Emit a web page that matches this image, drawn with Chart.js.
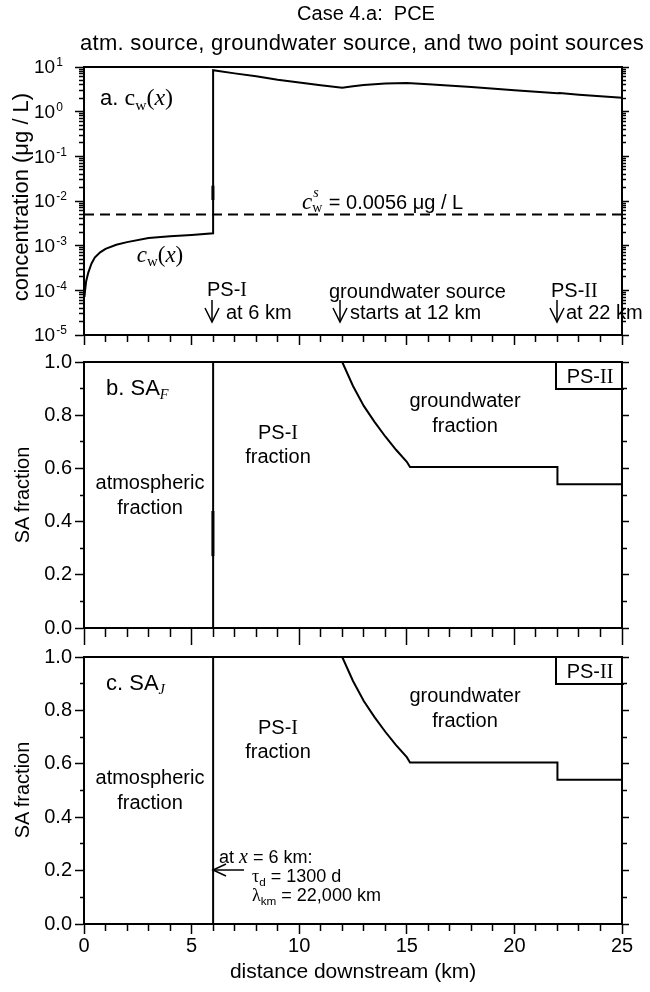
<!DOCTYPE html>
<html><head><meta charset="utf-8"><title>Case 4.a: PCE</title>
<script src="https://cdn.jsdelivr.net/npm/chart.js@4.4.1/dist/chart.umd.min.js"></script>
<style>
html,body{margin:0;padding:0;background:#fff;}
#wrap{position:relative;width:650px;height:992px;overflow:hidden;background:#fff;color:#000;font-family:"Liberation Sans",Arial,Helvetica,sans-serif;}
#wrap canvas{position:absolute;left:0;top:0;}
.t{position:absolute;white-space:nowrap;line-height:1;transform:translate(-50%,-50%);font-size:20px;}
.l{transform:translate(0,-50%);}
.s{font-family:"Liberation Serif","Times New Roman",serif;}
.i{font-style:italic;}
.rot{transform:translate(-50%,-50%) rotate(-90deg);font-size:21px;}
.box{position:absolute;border-left:2px solid #000;border-bottom:2px solid #000;}
.sub{position:relative;top:0.3em;font-size:0.65em;}
</style></head>
<body>
<div id="wrap">
<canvas id="cA" width="650" height="992" style="width:650px;height:992px"></canvas>
<canvas id="cB" width="650" height="992" style="width:650px;height:992px"></canvas>
<canvas id="cC" width="650" height="992" style="width:650px;height:992px"></canvas>

<svg width="650" height="992" style="position:absolute;left:0;top:0;pointer-events:none" fill="none" stroke="#000" stroke-width="1.5">
  <line x1="212" y1="300" x2="212" y2="322"/><polyline points="205,308 212,322 219,308"/>
  <line x1="340" y1="300" x2="340" y2="322"/><polyline points="333,308 340,322 347,308"/>
  <line x1="557" y1="300" x2="557" y2="322"/><polyline points="550,308 557,322 564,308"/>
  <line x1="213" y1="870" x2="244" y2="870"/><polyline points="226,864 213,870 226,876"/>
</svg>

<!-- titles -->
<div class="t" style="left:366px;top:13px;font-size:20px">Case 4.a:&nbsp; PCE</div>
<div class="t" style="left:362px;top:43px;font-size:22px;letter-spacing:0.3px">atm. source, groundwater source, and two point sources</div>
<div class="t rot" style="left:21px;top:197px;font-size:22px">concentration (μg / L)</div>
<div class="t rot" style="left:22px;top:495px;font-size:20px">SA fraction</div>
<div class="t rot" style="left:22px;top:790px;font-size:20px">SA fraction</div>
<div class="t" style="left:353px;top:970px;font-size:21px">distance downstream (km)</div>

<!-- panel a -->
<div class="t l" style="left:100px;top:97px;font-size:22px">a. <span class="s" style="font-size:24px">c<span class="sub">w</span>(<span class="i">x</span>)</span></div>
<div class="t l" style="left:302px;top:201px;font-size:20px"><span class="s i" style="font-size:23px">c</span><span class="s" style="display:inline-block;position:relative;width:11px;height:1em;font-size:14px"><span class="i" style="position:absolute;left:1px;top:-9px">s</span><span style="position:absolute;left:0;top:6px">w</span></span> = 0.0056 μg / L</div>
<div class="t" style="left:160px;top:254px;font-size:23px"><span class="s"><span class="i">c</span><span class="sub">w</span>(<span class="i">x</span>)</span></div>
<div class="t l" style="left:207px;top:289px">PS-<span class="s">I</span></div>
<div class="t l" style="left:226px;top:312px">at 6 km</div>
<div class="t l" style="left:329px;top:291px">groundwater source</div>
<div class="t l" style="left:350px;top:312px">starts at 12 km</div>
<div class="t l" style="left:551px;top:290px">PS-<span class="s">II</span></div>
<div class="t l" style="left:566px;top:312px">at 22 km</div>

<!-- panel b -->
<div class="t l" style="left:106px;top:388px;font-size:22px">b. SA<span class="s i sub">F</span></div>
<div class="t" style="left:150px;top:482px">atmospheric</div>
<div class="t" style="left:150px;top:507px">fraction</div>
<div class="t" style="left:278px;top:432px">PS-<span class="s">I</span></div>
<div class="t" style="left:278px;top:456px">fraction</div>
<div class="t" style="left:465px;top:400px">groundwater</div>
<div class="t" style="left:465px;top:425px">fraction</div>
<div class="box" style="left:555px;top:362px;width:67px;height:26px"></div>
<div class="t" style="left:590px;top:376px">PS-<span class="s">II</span></div>

<!-- panel c -->
<div class="t l" style="left:106px;top:683px;font-size:22px">c. SA<span class="s i sub">J</span></div>
<div class="t" style="left:150px;top:777px">atmospheric</div>
<div class="t" style="left:150px;top:802px">fraction</div>
<div class="t" style="left:278px;top:727px">PS-<span class="s">I</span></div>
<div class="t" style="left:278px;top:751px">fraction</div>
<div class="t" style="left:465px;top:695px">groundwater</div>
<div class="t" style="left:465px;top:720px">fraction</div>
<div class="box" style="left:555px;top:657px;width:67px;height:26px"></div>
<div class="t" style="left:590px;top:671px">PS-<span class="s">II</span></div>
<div class="t l" style="left:219px;top:856px;font-size:18px">at <span class="s i" style="font-size:20px">x</span> = 6 km:</div>
<div class="t l" style="left:252px;top:876px;font-size:18px"><span class="s">τ</span><span class="sub">d</span> = 1300 d</div>
<div class="t l" style="left:252px;top:895px;font-size:18px"><span class="s">λ</span><span class="sub">km</span> = 22,000 km</div>
</div>

<script>
// ---------- data ----------
const X_MIN = 0, X_MAX = 25;
const xMajorTicks = [0, 5, 10, 15, 20, 25];
const xTickLabels = ['0', '5', '10', '15', '20', '25'];
const xMinorTicks = [1, 2, 3, 4, 6, 7, 8, 9, 11, 12, 13, 14, 16, 17, 18, 19, 21, 22, 23, 24];

const logMajorTicks = [1e-5, 1e-4, 1e-3, 1e-2, 1e-1, 1, 10];
const logTickExponents = ['-5', '-4', '-3', '-2', '-1', '0', '1'];
const logMinorMultipliers = [2, 3, 4, 5, 6, 7, 8, 9];

const saMajorTicks = [0, 0.2, 0.4, 0.6, 0.8, 1.0];
const saTickLabels = ['0.0', '0.2', '0.4', '0.6', '0.8', '1.0'];
const saMinorTicks = [0.1, 0.3, 0.5, 0.7, 0.9];

// panel a: c_w(x) in ug/L
const cwX = [0.02, 0.05, 0.1, 0.2, 0.35, 0.5, 0.75, 1, 1.5, 2, 3, 4, 5, 6,
             6, 7, 8, 9, 10, 11, 12, 12.5, 13, 14, 15, 16, 18, 20, 22, 22.1, 23, 24, 25];
const cwY = [7.1e-5, 1.0e-4, 1.6e-4, 2.5e-4, 4.0e-4, 5.4e-4, 7.1e-4, 8.5e-4, 1.05e-3, 1.2e-3, 1.48e-3, 1.62e-3, 1.74e-3, 1.9e-3,
             8.5, 7.2, 6.2, 5.2, 4.5, 3.9, 3.45, 3.7, 3.95, 4.25, 4.37, 4.1, 3.55, 3.0, 2.57, 2.62, 2.4, 2.2, 2.04];
const cwSpikeX = [5.99, 5.99];
const cwSpikeY = [0.0105, 0.022];
const cwStandard = 0.005;           // dashed c_w^s level as drawn

// panels b and c: source-apportionment fractions
const psIX = [6, 6];
const psIY = [0, 1];
const gwX = [12, 12.5, 13, 13.5, 14, 14.5, 15, 15.15, 22, 22, 25];
const gwY = [1.0, 0.91, 0.835, 0.775, 0.72, 0.67, 0.625, 0.605, 0.605, 0.54, 0.54];
const saFSpikeX = [5.99, 5.99];
const saFSpikeY = [0.27, 0.44];

// ---------- helpers ----------
const FONT = '"Liberation Sans", Arial, sans-serif';
const BW = 2, TW = 1.5;
const pts = (xs, ys) => xs.map((x, i) => ({x: x, y: ys[i]}));

function setTicks(majors, minors) {
  return function (scale) {
    const t = majors.map(v => ({value: v, major: true}))
      .concat(minors.map(v => ({value: v, major: false})));
    t.sort((a, b) => a.value - b.value);
    scale.ticks = t;
  };
}
function tickGrid(side, majorLen, minorLen) {
  return {
    drawOnChartArea: false, drawTicks: true, tickLength: majorLen,
    tickWidth: TW, tickColor: '#000',
    tickBorderDash: function (ctx) {
      if (!ctx.tick || ctx.tick.major) return [];
      return side === 'left' ? [0, majorLen - minorLen, minorLen + 6, 1000] : [minorLen, 1000];
    }
  };
}
const border = {display: true, color: '#000', width: BW};

function xAxis(h, majorLen, minorLen, showLabels) {
  return {
    type: 'linear', position: 'bottom', min: X_MIN, max: X_MAX,
    afterBuildTicks: setTicks(xMajorTicks, xMinorTicks),
    afterFit: s => { s.height = h; },
    ticks: {display: showLabels, autoSkip: false, maxRotation: 0, padding: 0, color: '#000',
      font: {family: FONT, size: 20},
      callback: v => { const k = xMajorTicks.indexOf(v); return k >= 0 ? xTickLabels[k] : ''; }},
    grid: tickGrid('bottom', majorLen, minorLen),
    border: border
  };
}
function xTop() {
  return {
    type: 'linear', axis: 'x', position: 'top', min: X_MIN, max: X_MAX,
    afterFit: s => { s.height = 0; },
    ticks: {display: false}, grid: {display: true, drawOnChartArea: false, drawTicks: false},
    border: border
  };
}
function saAxis(side) {
  const left = side === 'left';
  return {
    type: 'linear', axis: 'y', position: side, min: 0, max: 1,
    afterBuildTicks: setTicks(saMajorTicks, saMinorTicks),
    afterFit: s => { s.width = left ? 84 : 28; },
    ticks: {display: left, autoSkip: false, padding: 3, color: '#000',
      font: {family: FONT, size: 20},
      callback: v => { const k = saMajorTicks.findIndex(m => Math.abs(m - v) < 1e-9); return k >= 0 ? saTickLabels[k] : ''; }},
    grid: left ? tickGrid('left', 9, 4) : tickGrid('right', 7, 4),
    border: border
  };
}
function logMinors() {
  const out = [];
  logMajorTicks.slice(0, -1).forEach(d => logMinorMultipliers.forEach(m => out.push(d * m)));
  return out;
}
function logAxis(side) {
  const left = side === 'left';
  return {
    type: 'logarithmic', axis: 'y', position: side, min: 1e-5, max: 10,
    afterBuildTicks: setTicks(logMajorTicks, logMinors()),
    afterFit: s => { s.width = left ? 84 : 28; },
    ticks: {display: false, autoSkip: false},
    grid: left ? tickGrid('left', 9, 5) : tickGrid('right', 7, 3),
    border: border
  };
}

// draws "10" with a superscript exponent at each decade of the log axis
const logLabelPlugin = {
  id: 'logLabels',
  afterDraw(chart) {
    const s = chart.scales.y;
    if (!s || s.type !== 'logarithmic') return;
    const c = chart.ctx;
    c.save();
    c.fillStyle = '#000';
    c.textBaseline = 'middle';
    c.textAlign = 'left';
    logMajorTicks.forEach((v, i) => {
      const y = s.getPixelForValue(v);
      c.font = '19px ' + FONT;
      c.fillText('10', 34, y + 1);
      const w = c.measureText('10').width;
      c.font = '12px ' + FONT;
      c.fillText(logTickExponents[i], 34 + w + 1, y - 4);
    });
    c.restore();
  }
};

const lineDs = (data, extra) => Object.assign({
  type: 'line', data: data, borderColor: '#000', borderWidth: 2, pointRadius: 0,
  fill: false, tension: 0, xAxisID: 'x', yAxisID: 'y'
}, extra || {});

const common = {
  responsive: false, animation: false, events: [],
  plugins: {legend: {display: false}, tooltip: {enabled: false}, title: {display: false}},
  parsing: true
};

// ---------- panel a ----------
new Chart(document.getElementById('cA'), {
  type: 'line',
  data: {datasets: [
    lineDs(pts(cwX, cwY)),
    lineDs(pts(cwSpikeX, cwSpikeY), {borderWidth: 3}),
    lineDs(pts([X_MIN, X_MAX], [cwStandard, cwStandard]), {borderDash: [10, 6], borderWidth: 2})
  ]},
  options: Object.assign({}, common, {
    layout: {padding: {top: 67, left: 0, right: 0, bottom: 992 - 335 - 12}},
    scales: {x: xAxis(12, 10, 6, false), x2: xTop(), y: logAxis('left'), y2: logAxis('right')}
  }),
  plugins: [logLabelPlugin]
});

// ---------- panel b ----------
new Chart(document.getElementById('cB'), {
  type: 'line',
  data: {datasets: [
    lineDs(pts(psIX, psIY)),
    lineDs(pts(saFSpikeX, saFSpikeY), {borderWidth: 3}),
    lineDs(pts(gwX, gwY))
  ]},
  options: Object.assign({}, common, {
    layout: {padding: {top: 362, left: 0, right: 0, bottom: 992 - 628 - 18}},
    scales: {x: xAxis(18, 17, 8, false), x2: xTop(), y: saAxis('left'), y2: saAxis('right')}
  })
});

// ---------- panel c ----------
new Chart(document.getElementById('cC'), {
  type: 'line',
  data: {datasets: [
    lineDs(pts(psIX, psIY)),
    lineDs(pts(gwX, gwY))
  ]},
  options: Object.assign({}, common, {
    layout: {padding: {top: 657, left: 0, right: 0, bottom: 992 - 924 - 40}},
    scales: {x: xAxis(40, 10, 6, true), x2: xTop(), y: saAxis('left'), y2: saAxis('right')}
  })
});
</script>
</body></html>
